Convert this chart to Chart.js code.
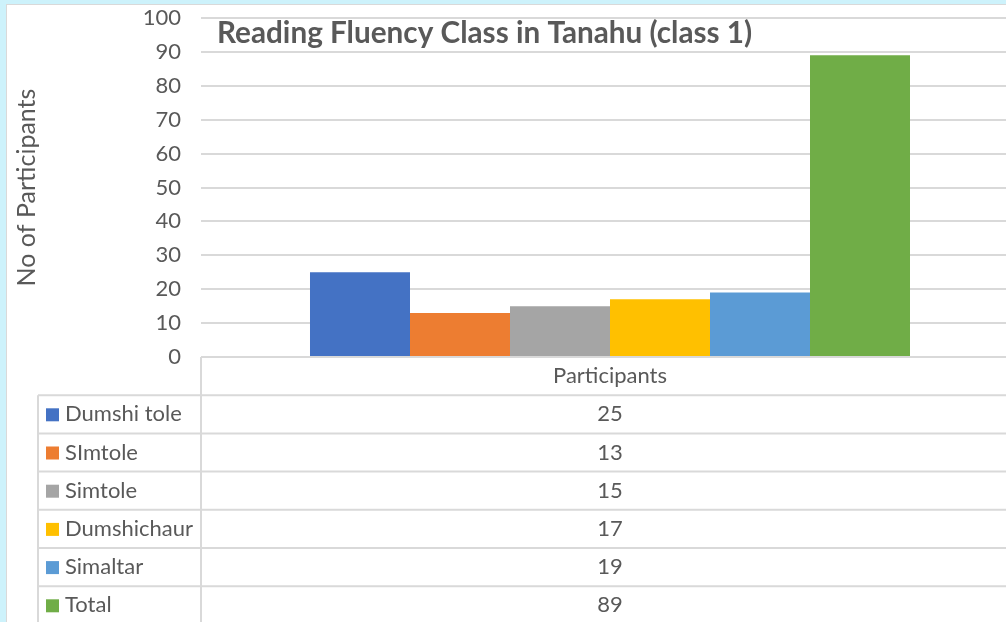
<!DOCTYPE html>
<html>
<head>
<meta charset="utf-8">
<script src="https://cdn.jsdelivr.net/npm/chart.js@4.4.1/dist/chart.umd.min.js"></script>
<style>
  html, body { margin: 0; padding: 0; width: 1006px; height: 622px; overflow: hidden; background: #cdf2fb; }
  #frame { position: absolute; left: 6px; top: 4px; width: 1100px; height: 700px; background: #fff;
           border-left: 1px solid #d9d9d9; border-top: 1px solid #d9d9d9; }
  #wrap { position: absolute; left: 0; top: 0; width: 1012px; height: 617px; }
</style>
</head>
<body>
<div id="frame"><div id="wrap"><canvas id="chart"></canvas></div></div>
<script>
const chartTitle = 'Reading Fluency Class in Tanahu (class 1)';
const categories = ['Participants'];
const seriesNames = ['Dumshi tole', 'SImtole', 'Simtole', 'Dumshichaur', 'Simaltar', 'Total'];
const seriesValues = [25, 13, 15, 17, 19, 89];
const seriesColors = ['#4472C4', '#ED7D31', '#A5A5A5', '#FFC000', '#5B9BD5', '#70AD47'];
const yTicks = [0, 10, 20, 30, 40, 50, 60, 70, 80, 90, 100];

const textColor = '#595959';
const lineColor = '#d9d9d9';
const fontFamily = 'Lato, "Open Sans", sans-serif';

// title inside the plot area + data table under the axis
const tablePlugin = {
  id: 'dataTable',
  afterDraw(chart) {
    const ctx = chart.ctx;
    const area = chart.chartArea;
    const x = chart.scales.x;
    const y = chart.scales.y;
    const top = y.getPixelForValue(0);
    const rowH = 38.2;
    const legendLeft = 31;
    const colX = x.getPixelForValue(0);
    const right = chart.width;

    ctx.save();
    ctx.fillStyle = textColor;
    ctx.font = 'bold 29.7px ' + fontFamily;
    ctx.textAlign = 'left';
    ctx.textBaseline = 'alphabetic';
    ctx.fillText(chartTitle, area.left + 16, 38);

    ctx.strokeStyle = lineColor;
    ctx.lineWidth = 2;
    ctx.beginPath();
    ctx.moveTo(area.left, top);
    ctx.lineTo(area.left, chart.height);
    ctx.moveTo(legendLeft, top + rowH);
    ctx.lineTo(legendLeft, chart.height);
    for (let i = 1; i <= seriesNames.length; i++) {
      const ry = top + rowH * i;
      ctx.moveTo(legendLeft, ry);
      ctx.lineTo(right, ry);
    }
    ctx.stroke();

    ctx.font = '22px ' + fontFamily;
    ctx.textBaseline = 'middle';
    ctx.textAlign = 'center';
    ctx.fillText(categories[0], colX, top + rowH / 2);
    seriesNames.forEach((name, i) => {
      const cy = top + rowH * (i + 1.5);
      ctx.fillStyle = seriesColors[i];
      ctx.fillRect(legendLeft + 8, cy - 6, 13, 13);
      ctx.fillStyle = textColor;
      ctx.textAlign = 'left';
      ctx.fillText(name, legendLeft + 27, cy);
      ctx.textAlign = 'center';
      ctx.fillText(String(seriesValues[i]), colX, cy);
    });
    ctx.restore();
  }
};

new Chart(document.getElementById('chart'), {
  type: 'bar',
  data: {
    labels: categories,
    datasets: seriesNames.map((name, i) => ({
      label: name,
      data: [seriesValues[i]],
      backgroundColor: seriesColors[i],
      borderWidth: 0,
      categoryPercentage: 0.7335,
      barPercentage: 1
    }))
  },
  options: {
    responsive: true,
    maintainAspectRatio: false,
    animation: false,
    layout: { padding: { top: 13, bottom: 265, left: 0, right: 0 } },
    plugins: { legend: { display: false }, tooltip: { enabled: false } },
    scales: {
      x: { display: false },
      y: {
        min: 0,
        max: 100,
        afterBuildTicks: (scale) => { scale.ticks = yTicks.map(v => ({ value: v })); },
        afterFit: (scale) => { scale.width = 194; scale.paddingTop = 0; scale.paddingBottom = 0; },
        grid: { color: lineColor, lineWidth: 2, drawTicks: false },
        border: { display: false },
        ticks: { color: textColor, font: { family: fontFamily, size: 22 }, padding: 20 },
        title: {
          display: true,
          text: 'No of Participants',
          color: textColor,
          font: { family: fontFamily, size: 25 },
          padding: { top: 5, bottom: 0 }
        }
      }
    }
  },
  plugins: [tablePlugin]
});
</script>
</body>
</html>
